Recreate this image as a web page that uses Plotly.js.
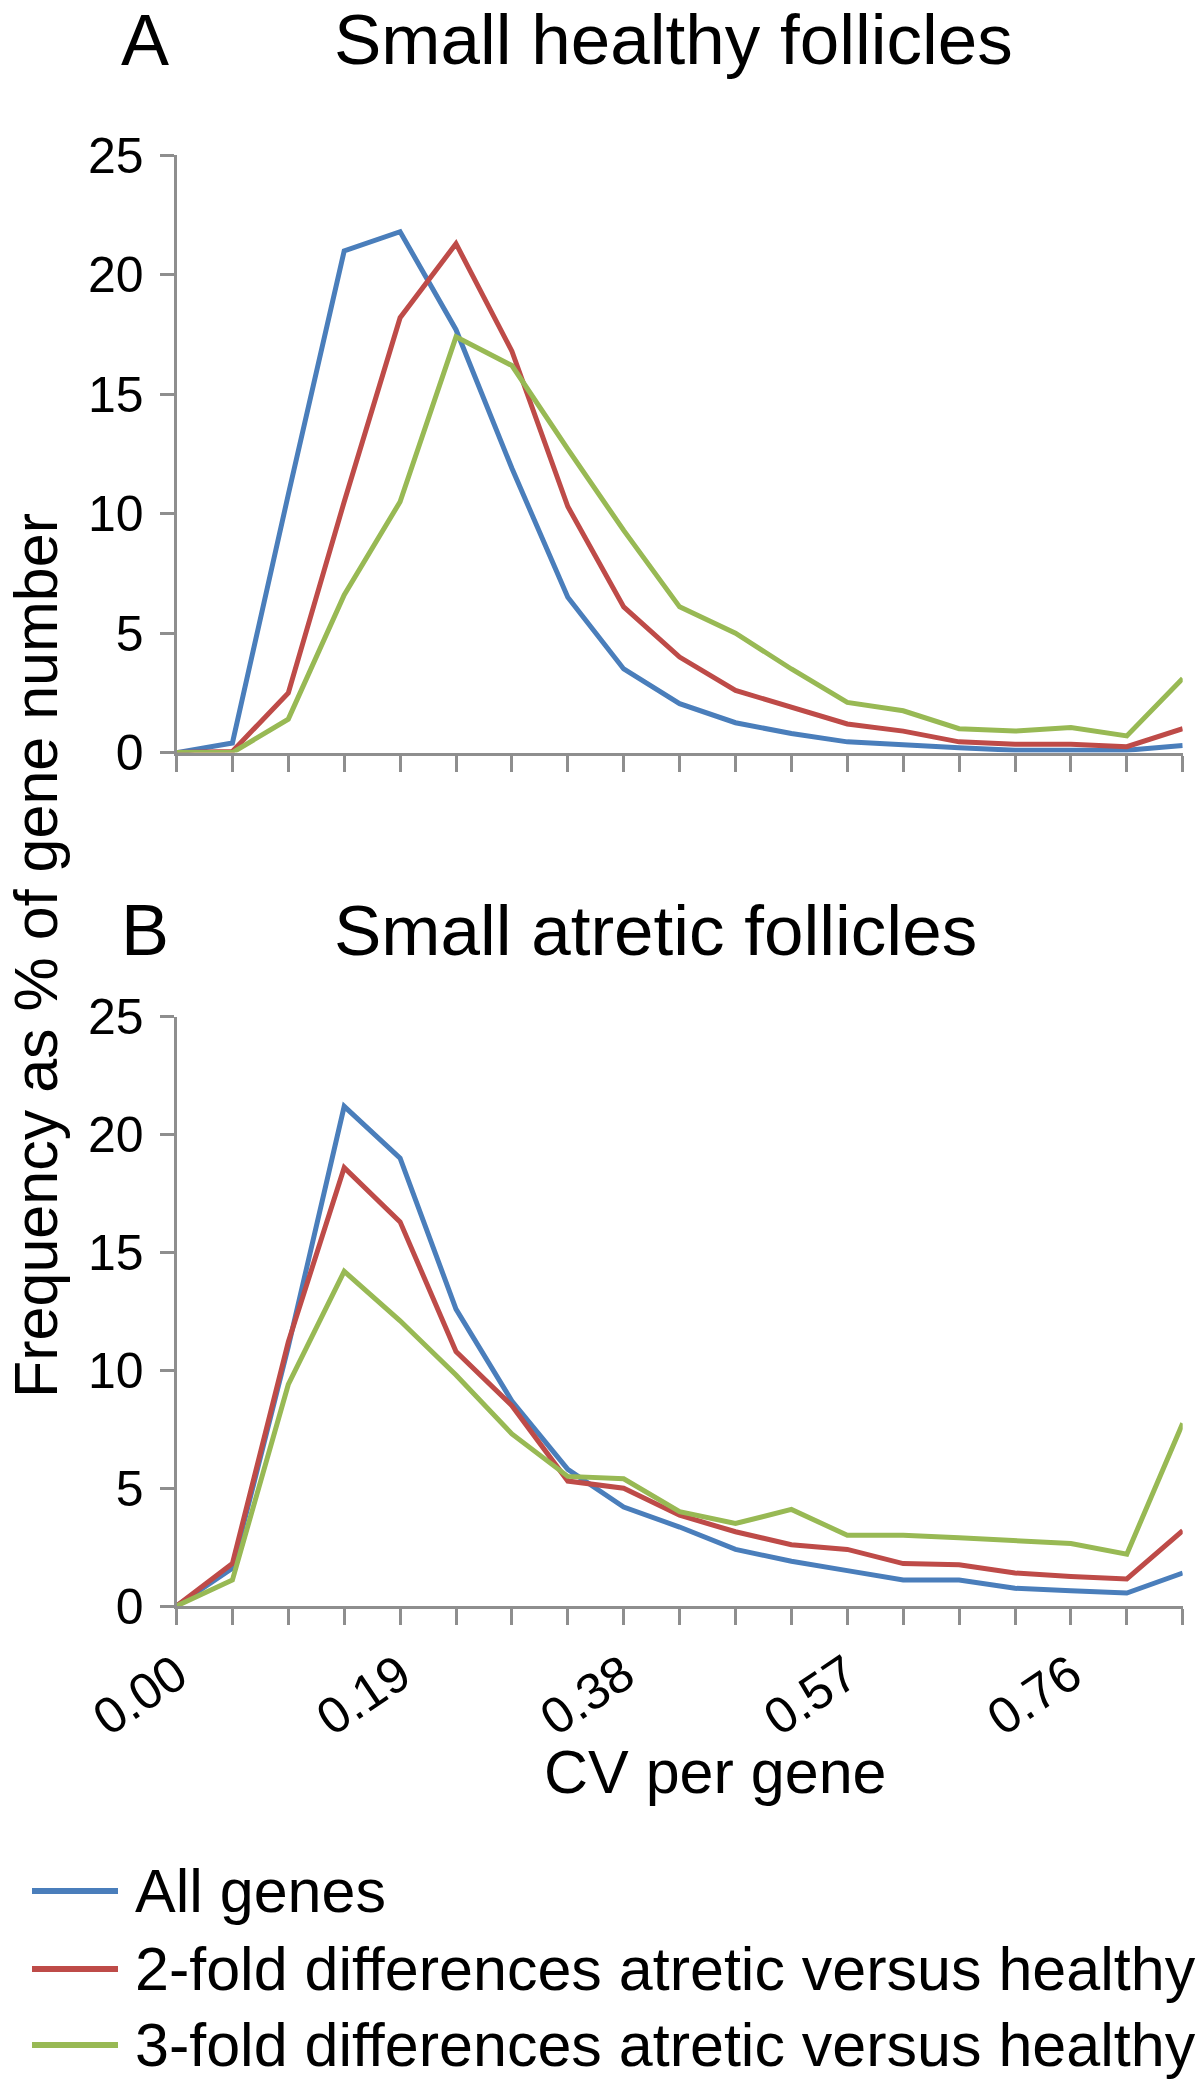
<!DOCTYPE html>
<html>
<head>
<meta charset="utf-8">
<script src="https://cdn.plot.ly/plotly-3.0.1.min.js"></script>
<style>html,body{margin:0;padding:0;background:#fff;}#chart{width:1200px;height:2082px;}</style>
</head>
<body>
<div id="chart"></div>
<script>
// CV bins (category positions on the x axis)
const cvBins = [0.0000, 0.0475, 0.0950, 0.1425, 0.1900, 0.2375, 0.2850, 0.3325, 0.3800, 0.4275,
                0.4750, 0.5225, 0.5700, 0.6175, 0.6650, 0.7125, 0.7600, 0.8075, 0.8550];
const xTickValues = [0.00, 0.19, 0.38, 0.57, 0.76];
const xTickLabels = ['0.00', '0.19', '0.38', '0.57', '0.76'];
const yTickValues = [0, 5, 10, 15, 20, 25];

const seriesNames = ['All genes', '2-fold differences atretic versus healthy', '3-fold differences atretic versus healthy'];
const seriesColors = ['#4A7EBB', '#BE4B48', '#98B954'];

// Panel A: small healthy follicles (frequency, % of gene number)
const healthyAll   = [0, 0.4, 10.8, 21.0, 21.8, 17.7, 11.9, 6.5, 3.5, 2.05, 1.25, 0.8, 0.45, 0.3, 0.2, 0.1, 0.1, 0.1, 0.3];
const healthyTwo   = [0, 0.05, 2.5, 10.5, 18.2, 21.3, 16.8, 10.3, 6.1, 4.0, 2.6, 1.9, 1.2, 0.9, 0.45, 0.35, 0.35, 0.25, 1.0];
const healthyThree = [0, 0, 1.4, 6.6, 10.5, 17.4, 16.2, 12.7, 9.3, 6.1, 5.0, 3.5, 2.1, 1.75, 1.0, 0.9, 1.05, 0.7, 3.1];

// Panel B: small atretic follicles
const atreticAll   = [0, 1.6, 11.0, 21.2, 19.0, 12.6, 8.7, 5.8, 4.2, 3.35, 2.4, 1.9, 1.5, 1.1, 1.1, 0.75, 0.65, 0.55, 1.4];
const atreticTwo   = [0, 1.8, 11.2, 18.6, 16.3, 10.8, 8.5, 5.3, 5.0, 3.85, 3.15, 2.6, 2.4, 1.8, 1.75, 1.4, 1.25, 1.15, 3.2];
const atreticThree = [0, 1.1, 9.4, 14.2, 12.1, 9.8, 7.3, 5.5, 5.4, 4.0, 3.5, 4.1, 3.0, 3.0, 2.9, 2.8, 2.65, 2.2, 7.75];

const panelTitles = ['Small healthy follicles', 'Small atretic follicles'];
const panelLetters = ['A', 'B'];
const xAxisTitle = 'CV per gene';
const yAxisTitle = 'Frequency as % of gene number';

const W = 1200, H = 2082;
const FONT = '"Liberation Sans", Arial, Helvetica, sans-serif';
const px = v => v / W;
const py = v => 1 - v / H;

const panelSeries = [[healthyAll, healthyTwo, healthyThree], [atreticAll, atreticTwo, atreticThree]];
const traces = [];
panelSeries.forEach((set, p) => {
  set.forEach((vals, i) => {
    traces.push({
      type: 'scatter', mode: 'lines',
      x: cvBins, y: vals, name: seriesNames[i],
      xaxis: p === 0 ? 'x' : 'x2', yaxis: p === 0 ? 'y' : 'y2',
      line: {color: seriesColors[i], width: 5},
      showlegend: false, hoverinfo: 'skip'
    });
  });
});

// tick text: labels only at the labelled positions
const binText = cvBins.map(b => {
  const k = xTickValues.findIndex(v => Math.abs(v - b) < 1e-6);
  return k >= 0 ? xTickLabels[k] : '';
});

const axisColor = '#8E8E8E';
const xDomain = [px(176.5), px(1182.7)];
function xAxis(showLabels) {
  return {
    domain: xDomain, range: [cvBins[0], cvBins[cvBins.length - 1]],
    tickmode: 'array', tickvals: cvBins, ticktext: binText,
    showticklabels: showLabels, tickangle: -34,
    tickfont: {family: FONT, size: 51, color: '#000'},
    ticks: 'outside', ticklen: 16, tickwidth: 3, tickcolor: axisColor,
    showline: true, linecolor: axisColor, linewidth: 3,
    showgrid: false, zeroline: false, fixedrange: true, automargin: false
  };
}
function yAxis(domain) {
  return {
    domain: domain, range: [0, 25],
    tickmode: 'array', tickvals: yTickValues,
    tickfont: {family: FONT, size: 50, color: '#000'},
    ticks: 'outside', ticklen: 14, tickwidth: 3, tickcolor: axisColor,
    ticklabelstandoff: 6,
    showline: true, linecolor: axisColor, linewidth: 3,
    showgrid: false, zeroline: false, fixedrange: true, automargin: false
  };
}

const annotations = [];
const titleY = [40, 930];
panelTitles.forEach((t, p) => {
  annotations.push({xref: 'paper', yref: 'paper', x: px(145), y: py(titleY[p]), xanchor: 'center', yanchor: 'middle',
    text: panelLetters[p], showarrow: false, font: {family: FONT, size: 72, color: '#000'}});
  annotations.push({xref: 'paper', yref: 'paper', x: px(332), y: py(titleY[p]), xanchor: 'left', yanchor: 'middle',
    text: t, showarrow: false, font: {family: FONT, size: 71, color: '#000'}});
});
annotations.push({xref: 'paper', yref: 'paper', x: 0, y: py(956), xanchor: 'left', yanchor: 'middle',
  text: yAxisTitle, textangle: -90, showarrow: false, font: {family: FONT, size: 61, color: '#000'}});
annotations.push({xref: 'paper', yref: 'paper', x: px(715), y: py(1772), xanchor: 'center', yanchor: 'middle',
  text: xAxisTitle, showarrow: false, font: {family: FONT, size: 61, color: '#000'}});

// manual legend
const legendRows = [1891, 1969, 2045];
const shapes = [];
seriesNames.forEach((n, i) => {
  shapes.push({type: 'line', xref: 'paper', yref: 'paper', x0: px(32), x1: px(118), y0: py(legendRows[i]), y1: py(legendRows[i]),
    line: {color: seriesColors[i], width: 6}});
  annotations.push({xref: 'paper', yref: 'paper', x: px(133), y: py(legendRows[i]), xanchor: 'left', yanchor: 'middle',
    text: n, showarrow: false, font: {family: FONT, size: 61, color: '#000'}});
});

const layout = {
  width: W, height: H,
  margin: {l: 0, r: 0, t: 0, b: 0, pad: 0},
  paper_bgcolor: '#fff', plot_bgcolor: 'rgba(0,0,0,0)',
  showlegend: false,
  xaxis: Object.assign(xAxis(false), {anchor: 'y'}),
  yaxis: Object.assign(yAxis([py(752.6), py(155.3)]), {anchor: 'x'}),
  xaxis2: Object.assign(xAxis(true), {anchor: 'y2'}),
  yaxis2: Object.assign(yAxis([py(1606), py(1016.8)]), {anchor: 'x2'}),
  annotations: annotations,
  shapes: shapes,
  font: {family: FONT, color: '#000'}
};

Plotly.newPlot('chart', traces, layout, {staticPlot: true, displayModeBar: false});
</script>
</body>
</html>
